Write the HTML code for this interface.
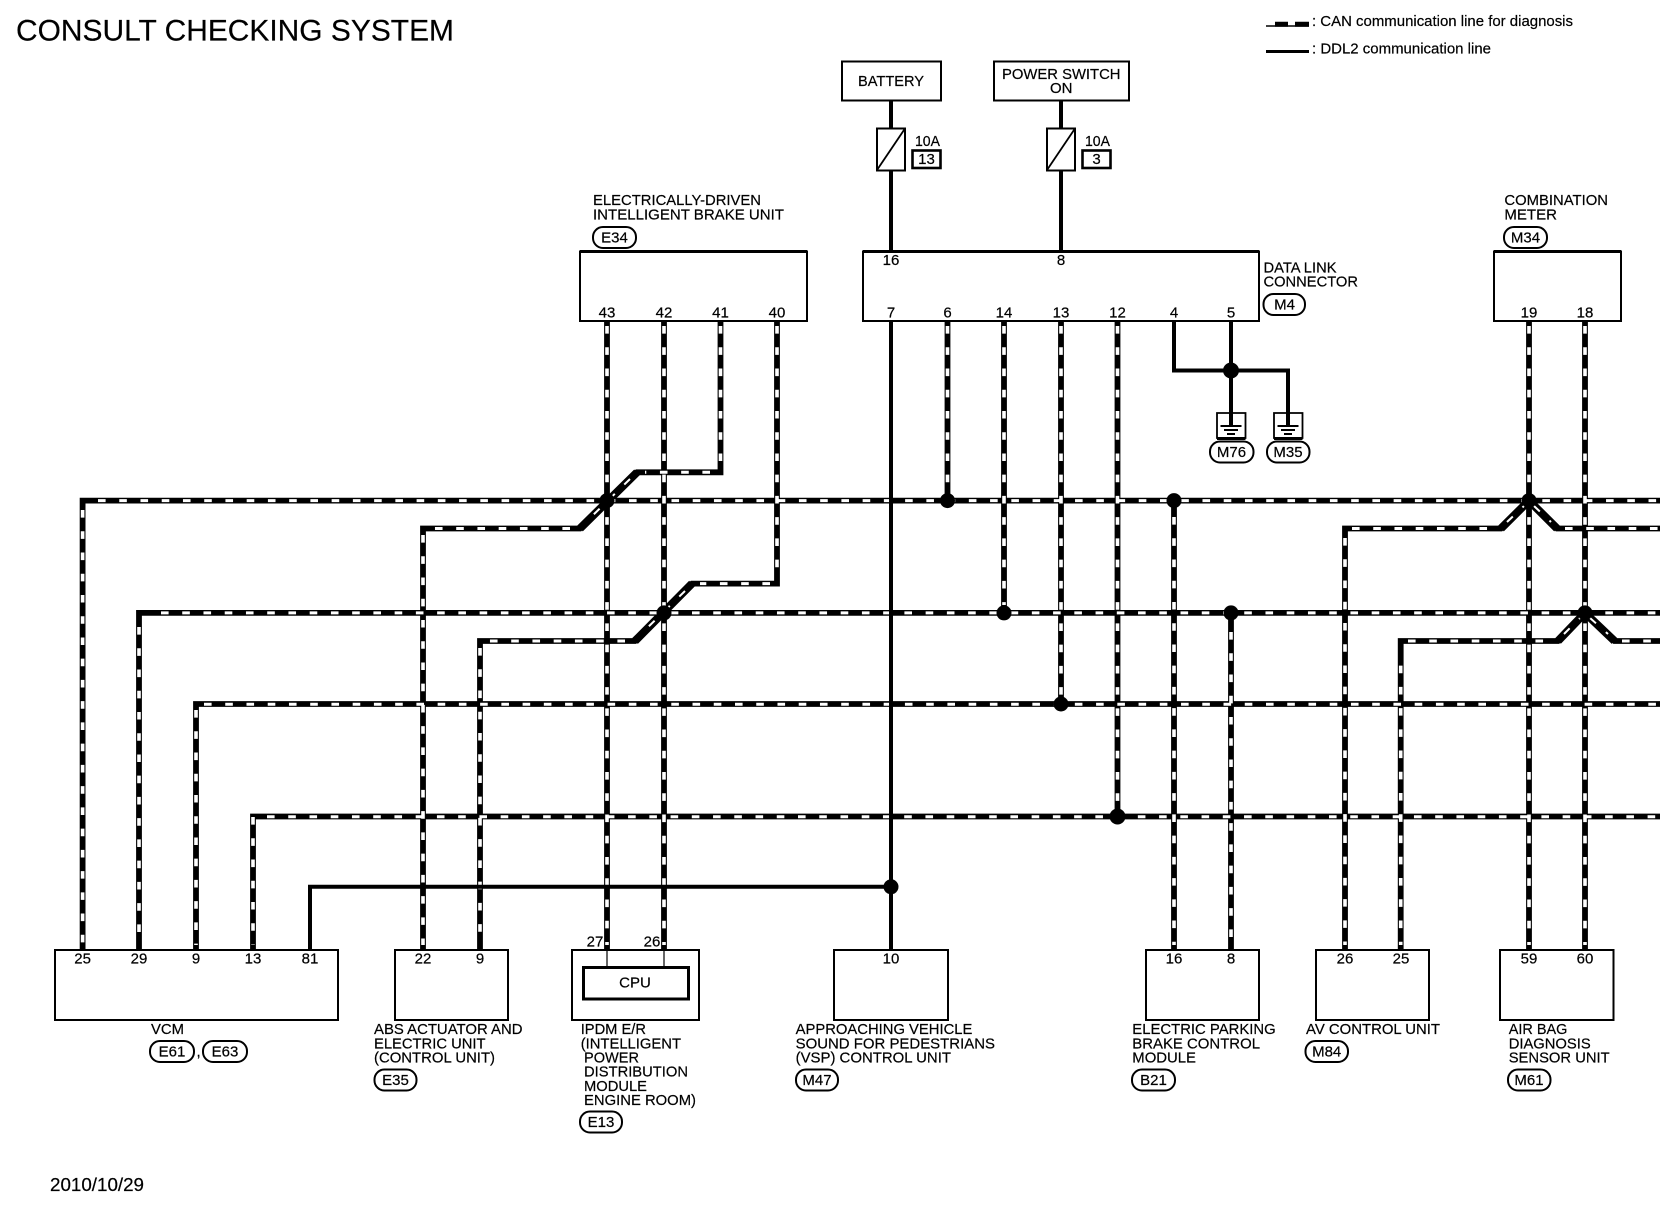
<!DOCTYPE html>
<html><head><meta charset="utf-8"><title>CONSULT CHECKING SYSTEM</title>
<style>
html,body{margin:0;padding:0;background:#fff;width:1660px;height:1216px;overflow:hidden}
svg{display:block}
text{font-family:"Liberation Sans",sans-serif;font-size:15px;fill:#000;stroke:#000;stroke-width:.2;transform:translateY(-.6px)}
.c{text-anchor:middle}
.b{fill:#fff;stroke:#000;stroke-width:2}
.o{fill:#fff;stroke:#000;stroke-width:2}
.s{fill:none;stroke:#000;stroke-width:4}
.k{fill:none;stroke:#000;stroke-width:5.8}
.d{fill:none;stroke:#000;stroke-width:8}
.w{fill:none;stroke:#fff;stroke-width:3;stroke-dasharray:7.6 13.64}
.v{fill:none;stroke:#fff;stroke-width:3.6;stroke-dasharray:7.6 13.64}
.wd{fill:none;stroke:#fff;stroke-width:2;stroke-dasharray:8 13.24}
</style></head><body>
<svg width="1660" height="1216" viewBox="0 0 1660 1216" xmlns="http://www.w3.org/2000/svg">
<rect width="1660" height="1216" fill="#fff"/>

<text x="16" y="41" style="font-size:30px" textLength="438" lengthAdjust="spacingAndGlyphs">CONSULT CHECKING SYSTEM</text>

<!-- legend -->
<path d="M1266 26H1309" stroke="#000" stroke-width="1.5" fill="none"/>
<path d="M1275 24.2H1288M1295 24.2H1309" stroke="#000" stroke-width="5" fill="none"/>
<path d="M1266 51.5H1309" stroke="#000" stroke-width="3" fill="none"/>
<text x="1312" y="26.5" textLength="261" lengthAdjust="spacingAndGlyphs">: CAN communication line for diagnosis</text>
<text x="1312" y="54" textLength="179" lengthAdjust="spacingAndGlyphs">: DDL2 communication line</text>

<!-- power side -->
<path class="s" d="M891 100V251M1061 100V251"/>
<rect class="b" x="842" y="61.5" width="99" height="39"/>
<rect class="b" x="994" y="61.5" width="135" height="39"/>
<text x="858" y="86.5" textLength="66" lengthAdjust="spacingAndGlyphs">BATTERY</text>
<text x="1002" y="79.5" textLength="118.5" lengthAdjust="spacingAndGlyphs">POWER SWITCH</text>
<text x="1050" y="93.5" textLength="22.5" lengthAdjust="spacingAndGlyphs">ON</text>
<rect class="b" x="877" y="128.5" width="28" height="42"/>
<path d="M877 170L905 128.5" stroke="#000" stroke-width="1.8" fill="none"/>
<rect class="b" x="1047" y="128.5" width="28" height="42"/>
<path d="M1047 170L1075 128.5" stroke="#000" stroke-width="1.8" fill="none"/>
<text x="915" y="146.5" textLength="25" lengthAdjust="spacingAndGlyphs">10A</text>
<text x="1085" y="146.5" textLength="25" lengthAdjust="spacingAndGlyphs">10A</text>
<rect x="912.5" y="150.5" width="28" height="17.5" fill="#fff" stroke="#000" stroke-width="2.6"/>
<rect x="1082.5" y="150.5" width="28" height="17.5" fill="#fff" stroke="#000" stroke-width="2.6"/>
<text class="c" x="926.5" y="164.5">13</text>
<text class="c" x="1096.5" y="164.5">3</text>

<!-- ground wires -->
<path class="s" d="M1174 321V370.5H1288V426M1231 321V426"/>

<!-- CAN wires black -->
<path class="k" d="M82.6 950V500.6H1660M139 950V612.9H1660M196 950V704H1660M253 950V816.5H1660M607 321V950M664 321V950M720.5 321V472.3H637L580 528.5H423V950M777 321V583.6H692L635 641H480V950M947.5 321V500.6M1004 321V612.9M1061 321V704M1117.5 321V816.5M1174 500.6V950M1231 612.9V950M1345 950V528.5H1501L1529 500.6L1557 528.5H1660M1400.7 950V641H1558L1585 612.9L1614.5 641H1660M1529 321V950M1585 321V950"/>
<path class="d" d="M637 472.3L580 528.5M692 583.6L635 641M1501 528.5L1529 500.6L1557 528.5M1558 641L1585 612.9L1614.5 641"/>
<!-- CAN wires white dashes: horizontals -->
<path class="w" d="M98 500.6H1660M161 612.9H1660M204 704.3H1660M267 816.8H1660M710 472.3H645M570 528.5H431M770 583.6H700M625 641H488M1352 528.5H1495M1565 528.5H1660M1408 641H1552M1622 641H1660"/>
<!-- CAN wires white dashes: verticals -->
<path class="v" d="M82.6 510V945M139 627V945M196 710V945M253 817V945M607 326V945M664 326V945M720.5 326V465M423 535V945M777 326V576M480 648V945M947.5 326V493M1004 326V605M1061 326V696M1117.5 326V808M1174 517V945M1231 632V945M1345 538V945M1400.7 665.6V945M1529 326V945M1585 326V945"/>
<path class="wd" d="M630 479L587 521M685 591L642 633M1507 522L1524 506M1534 506L1551 522M1564 634L1580 618M1590 618L1608 634"/>

<!-- solid DDL2 wire runs over the buses -->
<path class="s" d="M891 321V950M310 950V886.8H891"/>

<!-- junctions -->
<g fill="#000">
<circle cx="607" cy="500.6" r="7.5"/><circle cx="664" cy="612.9" r="7.5"/>
<circle cx="947.5" cy="500.6" r="7.5"/><circle cx="1004" cy="612.9" r="7.5"/>
<circle cx="1061" cy="704" r="7.5"/><circle cx="1117.5" cy="816.5" r="8"/>
<circle cx="1174" cy="500.6" r="7.5"/><circle cx="1231" cy="612.9" r="7.5"/>
<circle cx="1529" cy="500.6" r="7.5"/><circle cx="1585" cy="612.9" r="7.5"/>
<circle cx="891" cy="886.8" r="7.5"/><circle cx="1231" cy="370.5" r="8"/>
</g>

<!-- upper boxes -->
<g fill="none" stroke="#000" stroke-width="2">
<rect x="580" y="251.5" width="227" height="69.5"/>
<rect x="863" y="251.5" width="396" height="69.5"/>
<rect x="1494" y="251.5" width="127" height="69.5"/>
</g>
<path d="M580 251.5H807M863 251.5H1259M1494 251.5H1621" stroke="#000" stroke-width="3" fill="none"/>
<g>
<text class="c" x="607" y="318">43</text><text class="c" x="664" y="318">42</text><text class="c" x="720.5" y="318">41</text><text class="c" x="777" y="318">40</text>
<text class="c" x="891" y="265.5">16</text><text class="c" x="1061" y="265.5">8</text>
<text class="c" x="891" y="318">7</text><text class="c" x="947.5" y="318">6</text><text class="c" x="1004" y="318">14</text><text class="c" x="1061" y="318">13</text><text class="c" x="1117.5" y="318">12</text><text class="c" x="1174" y="318">4</text><text class="c" x="1231" y="318">5</text>
<text class="c" x="1529" y="318">19</text><text class="c" x="1585" y="318">18</text>
</g>

<text x="593" y="205.5" textLength="168" lengthAdjust="spacingAndGlyphs">ELECTRICALLY-DRIVEN</text>
<text x="593" y="220" textLength="191" lengthAdjust="spacingAndGlyphs">INTELLIGENT BRAKE UNIT</text>
<rect class="o" x="593" y="227" width="43" height="21" rx="10"/><text class="c" x="614.5" y="243">E34</text>

<text x="1263.5" y="273" textLength="73" lengthAdjust="spacingAndGlyphs">DATA LINK</text>
<text x="1263.5" y="287" textLength="94.5" lengthAdjust="spacingAndGlyphs">CONNECTOR</text>
<rect class="o" x="1263.5" y="294" width="41.5" height="21" rx="10"/><text class="c" x="1284.5" y="310">M4</text>

<text x="1504.4" y="205.5" textLength="103.6" lengthAdjust="spacingAndGlyphs">COMBINATION</text>
<text x="1504.4" y="220" textLength="52.6" lengthAdjust="spacingAndGlyphs">METER</text>
<rect class="o" x="1504" y="227" width="43" height="21" rx="10"/><text class="c" x="1525.5" y="243">M34</text>

<!-- grounds -->
<g fill="none" stroke="#000">
<path stroke-width="1.8" d="M1217 413H1245.5V438H1217ZM1274 413H1302.5V438H1274Z"/>
<path stroke-width="3" d="M1217 438.5H1245.5M1274 438.5H1302.5"/>
<path stroke-width="2" d="M1220.5 426H1241.5M1277.5 426H1298.5"/>
<path stroke-width="2" d="M1224 430H1238M1281 430H1295"/>
<path stroke-width="2" d="M1227 434H1235M1284 434H1292"/>
</g>
<rect class="o" x="1210" y="441.5" width="43.5" height="21" rx="10"/><text class="c" x="1231.5" y="457.5">M76</text>
<rect class="o" x="1267" y="441.5" width="42.5" height="21" rx="10"/><text class="c" x="1288" y="457.5">M35</text>

<!-- bottom boxes -->
<rect class="b" x="55" y="950" width="283" height="70"/>
<rect class="b" x="395" y="950" width="113" height="70"/>
<rect class="b" x="572" y="950" width="127" height="70"/>
<rect class="b" x="834" y="950" width="114" height="70"/>
<rect class="b" x="1146" y="950" width="113" height="70"/>
<rect class="b" x="1316" y="950" width="113" height="70"/>
<rect class="b" x="1500" y="950" width="113.5" height="70"/>
<path d="M607 950V967M664 950V967" stroke="#000" stroke-width="1.2" fill="none"/>
<rect x="583.5" y="967.5" width="105" height="31.5" fill="#fff" stroke="#000" stroke-width="3"/>
<text class="c" x="635" y="988">CPU</text>
<text class="c" x="595" y="947">27</text><text class="c" x="652" y="947">26</text>

<text class="c" x="82.6" y="964">25</text><text class="c" x="139" y="964">29</text><text class="c" x="196" y="964">9</text><text class="c" x="253" y="964">13</text><text class="c" x="310" y="964">81</text>
<text class="c" x="423" y="964">22</text><text class="c" x="480" y="964">9</text>
<text class="c" x="891" y="964">10</text>
<text class="c" x="1174" y="964">16</text><text class="c" x="1231" y="964">8</text>
<text class="c" x="1345" y="964">26</text><text class="c" x="1401" y="964">25</text>
<text class="c" x="1529" y="964">59</text><text class="c" x="1585" y="964">60</text>

<!-- bottom labels -->
<text x="151" y="1034.5" textLength="33" lengthAdjust="spacingAndGlyphs">VCM</text>
<rect class="o" x="150" y="1041" width="44" height="21" rx="10"/><text class="c" x="172" y="1057">E61</text>
<text x="196.5" y="1057">,</text>
<rect class="o" x="203" y="1041" width="44" height="21" rx="10"/><text class="c" x="225" y="1057">E63</text>

<text x="374" y="1034.5" textLength="148.5" lengthAdjust="spacingAndGlyphs">ABS ACTUATOR AND</text>
<text x="374" y="1048.9" textLength="111.5" lengthAdjust="spacingAndGlyphs">ELECTRIC UNIT</text>
<text x="374" y="1063.2" textLength="121" lengthAdjust="spacingAndGlyphs">(CONTROL UNIT)</text>
<rect class="o" x="374.5" y="1069.5" width="42" height="21" rx="10"/><text class="c" x="395.5" y="1085.5">E35</text>

<text x="580.7" y="1034.5" textLength="65.3" lengthAdjust="spacingAndGlyphs">IPDM E/R</text>
<text x="580.7" y="1048.9" textLength="100.3" lengthAdjust="spacingAndGlyphs">(INTELLIGENT</text>
<text x="584" y="1063.2" textLength="55" lengthAdjust="spacingAndGlyphs">POWER</text>
<text x="584" y="1077.3" textLength="104" lengthAdjust="spacingAndGlyphs">DISTRIBUTION</text>
<text x="584" y="1091.5" textLength="63" lengthAdjust="spacingAndGlyphs">MODULE</text>
<text x="584" y="1105.7" textLength="112" lengthAdjust="spacingAndGlyphs">ENGINE ROOM)</text>
<rect class="o" x="580" y="1111.5" width="42" height="21" rx="10"/><text class="c" x="601" y="1127.5">E13</text>

<text x="795.6" y="1034.5" textLength="176.8" lengthAdjust="spacingAndGlyphs">APPROACHING VEHICLE</text>
<text x="795.6" y="1048.9" textLength="199.4" lengthAdjust="spacingAndGlyphs">SOUND FOR PEDESTRIANS</text>
<text x="795.6" y="1063.2" textLength="155.4" lengthAdjust="spacingAndGlyphs">(VSP) CONTROL UNIT</text>
<rect class="o" x="796" y="1069.5" width="42" height="21" rx="10"/><text class="c" x="817" y="1085.5">M47</text>

<text x="1132.3" y="1034.5" textLength="143.4" lengthAdjust="spacingAndGlyphs">ELECTRIC PARKING</text>
<text x="1132.3" y="1048.9" textLength="127.7" lengthAdjust="spacingAndGlyphs">BRAKE CONTROL</text>
<text x="1132.3" y="1063.2" textLength="63.7" lengthAdjust="spacingAndGlyphs">MODULE</text>
<rect class="o" x="1132" y="1069.5" width="43" height="21" rx="10"/><text class="c" x="1153.5" y="1085.5">B21</text>

<text x="1306" y="1034.5" textLength="134" lengthAdjust="spacingAndGlyphs">AV CONTROL UNIT</text>
<rect class="o" x="1305.5" y="1041" width="42.5" height="21" rx="10"/><text class="c" x="1326.7" y="1057">M84</text>

<text x="1508.7" y="1034.5" textLength="58.7" lengthAdjust="spacingAndGlyphs">AIR BAG</text>
<text x="1508.7" y="1048.9" textLength="82" lengthAdjust="spacingAndGlyphs">DIAGNOSIS</text>
<text x="1508.7" y="1063.2" textLength="101" lengthAdjust="spacingAndGlyphs">SENSOR UNIT</text>
<rect class="o" x="1508" y="1069.5" width="42.5" height="21" rx="10"/><text class="c" x="1529" y="1085.5">M61</text>

<text x="50" y="1191.5" style="font-size:18px" textLength="94" lengthAdjust="spacingAndGlyphs">2010/10/29</text>
</svg>
</body></html>
